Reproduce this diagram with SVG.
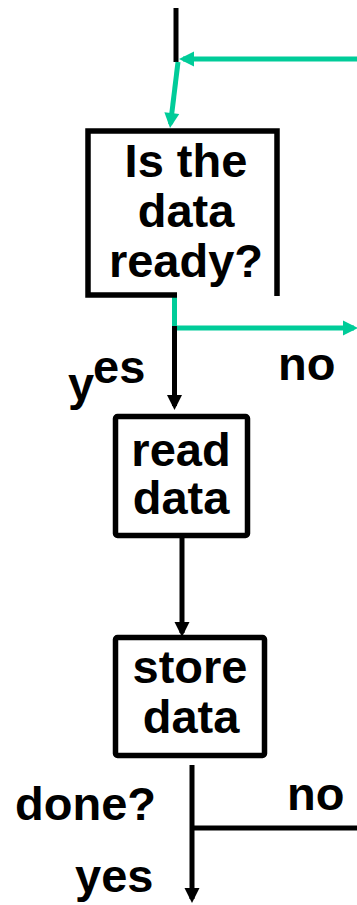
<svg xmlns="http://www.w3.org/2000/svg" width="357" height="905" viewBox="0 0 357 905">
<style>
.t{font-family:"Liberation Sans",Arial,sans-serif;font-weight:bold;font-size:47px;fill:#000}
.m{text-anchor:middle}
.box{fill:#fff;stroke:#000;stroke-width:5.5}
.bl{fill:none;stroke:#000;stroke-width:5}
.gr{fill:none;stroke:#00CC99;stroke-width:5}
</style>
<defs>
<marker id="ab" markerUnits="userSpaceOnUse" markerWidth="16" markerHeight="16" viewBox="0 0 15 16" refX="11" refY="8" orient="auto"><path d="M0,0.5 L15,8 L0,15.5 z" fill="#000"/></marker>
<marker id="ag" markerUnits="userSpaceOnUse" markerWidth="16" markerHeight="16" viewBox="0 0 15 16" refX="11" refY="8" orient="auto"><path d="M0,0.5 L15,8 L0,15.5 z" fill="#00CC99"/></marker>
</defs>
<g id="connectors">
<path class="bl" d="M176,8 V62"/>
<path class="gr" d="M357,59 H183" marker-end="url(#ag)"/>
<path class="gr" d="M178,62 L170.5,124" marker-end="url(#ag)"/>
<path class="gr" d="M174.5,297 V328 H354" marker-end="url(#ag)"/>
<path class="bl" d="M174.5,326 V406" marker-end="url(#ab)"/>
<path class="bl" d="M182,538 V633" marker-end="url(#ab)"/>
<path class="bl" d="M192,765 V899" marker-end="url(#ab)"/>
<path class="bl" d="M192,828 H357"/>
</g>
<g id="node-ready">
<path class="box" d="M177,295 H88 V131 H277 V296" stroke-linejoin="miter" fill="none"/>
<text class="t m" x="186" y="177">Is the</text>
<text class="t m" x="186" y="227">data</text>
<text class="t m" x="186" y="277">ready?</text>
</g>
<g id="label-yes1">
<text class="t" x="68" y="400">y</text>
<text class="t" x="93" y="383">es</text>
</g>
<g id="label-no1"><text class="t" x="278" y="380">no</text></g>
<g id="node-read">
<rect class="box" x="115.5" y="416.5" width="132" height="119" rx="2"/>
<text class="t m" x="181" y="466">read</text>
<text class="t m" x="181" y="514">data</text>
</g>
<g id="node-store">
<rect class="box" x="115.5" y="637.5" width="149" height="118" rx="2"/>
<text class="t m" x="190" y="683">store</text>
<text class="t m" x="191" y="733">data</text>
</g>
<g id="label-done"><text class="t" x="15" y="820">done?</text></g>
<g id="label-no2"><text class="t" x="287" y="810">no</text></g>
<g id="label-yes2"><text class="t" x="75" y="892">yes</text></g>
</svg>
